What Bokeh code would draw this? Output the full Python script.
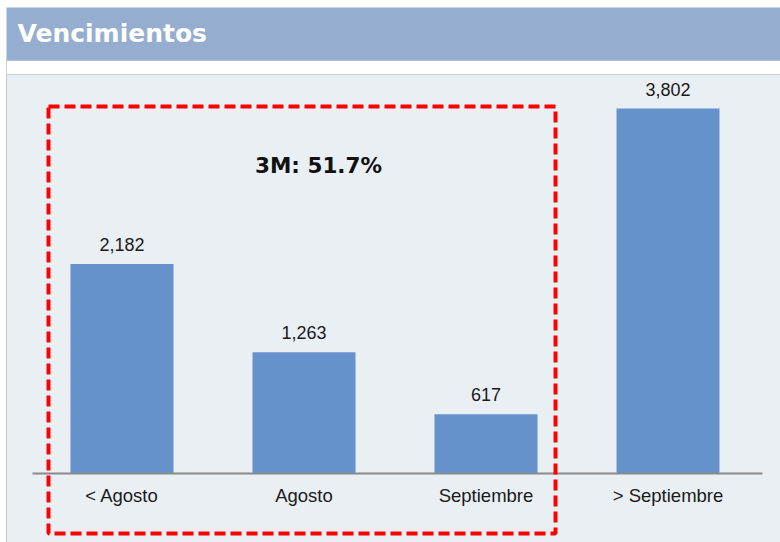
from bokeh.plotting import figure
from bokeh.models import Range1d, BoxAnnotation, Label, ColumnDataSource
from bokeh.embed import file_html
from bokeh.resources import INLINE
from bokeh.core.properties import value

# ---- data ----
categories = ["< Agosto", "Agosto", "Septiembre", "> Septiembre"]
amounts = [2182, 1263, 617, 3802]
title_text = "Vencimientos"
near_term_count = 3  # first three buckets (3M)

W, H = 780, 542
# pixel <-> data helpers (layout only)
X0, DX = 121.5, 182.0
BASE, K = 473.0, 365.0 / 3802.0
def px2x(px): return (px - X0) / DX
def py2y(py): return (BASE - py) / K

idx = list(range(len(categories)))
labels = [f"{v:,}" for v in amounts]
share = sum(amounts[:near_term_count]) / sum(amounts) * 100

p = figure(width=W, height=H, output_backend="svg", toolbar_location=None,
           x_range=Range1d(px2x(0), px2x(W)), y_range=Range1d(py2y(H), py2y(0)),
           x_axis_type=None, y_axis_type=None, min_border=0)
p.outline_line_color = None
p.grid.visible = False
p.background_fill_color = "white"
p.border_fill_color = "white"

# panel background
p.add_layout(BoxAnnotation(left=px2x(6), right=px2x(W + 5), top=py2y(74), bottom=py2y(H + 5),
                           fill_color="#e9eff3", fill_alpha=1, line_color="#c4c4c4",
                           line_alpha=1, line_width=1, level="underlay"))
# white strip border
p.add_layout(BoxAnnotation(left=px2x(6), right=px2x(W + 5), top=py2y(60), bottom=py2y(74),
                           fill_color="white", fill_alpha=1, line_color="#d0d0d0",
                           line_alpha=1, line_width=1, level="underlay"))
# title bar
p.add_layout(BoxAnnotation(left=px2x(6), right=px2x(W + 5), top=py2y(7), bottom=py2y(60),
                           fill_color="#95aed0", fill_alpha=1, line_color=None, level="underlay"))
p.add_layout(Label(x=px2x(17), y=py2y(33), text=title_text, text_color="white",
                   text_font="DejaVu Sans", text_font_style="bold", text_font_size="25px",
                   text_baseline="middle", text_align="left"))

src = ColumnDataSource(dict(x=idx, top=amounts, lab=labels, cat=categories))
p.vbar(x="x", top="top", width=103 / DX, bottom=0, source=src,
       fill_color="#6692cc", line_color=None)

# baseline
p.segment(x0=[px2x(32)], x1=[px2x(762)], y0=[0], y1=[0], line_color="#8a8a8a", line_width=2)

p.text(x="x", y="top", text="lab", source=src, y_offset=-13, text_align="center",
       text_baseline="bottom", text_font=value("Liberation Sans"), text_font_size="18px",
       text_color="#1a1a1a")
p.text(x="x", y=0, text="cat", source=src, y_offset=22, text_align="center",
       text_baseline="middle", text_font=value("Liberation Sans"), text_font_size="18.5px",
       text_color="#1a1a1a")

# dashed highlight around first three buckets
p.add_layout(BoxAnnotation(left=px2x(48), right=px2x(555), top=py2y(106), bottom=py2y(533),
                           fill_alpha=0, line_color="#ff0000", line_alpha=1, line_width=4,
                           line_dash="11 5"))
p.add_layout(Label(x=px2x(318), y=py2y(165),
                   text=f"3M: {share:.1f}%", text_font="DejaVu Sans", text_font_style="bold",
                   text_font_size="21.5px", text_align="center", text_baseline="middle",
                   text_color="#111111"))

open("out.html", "w").write(file_html(p, INLINE))
